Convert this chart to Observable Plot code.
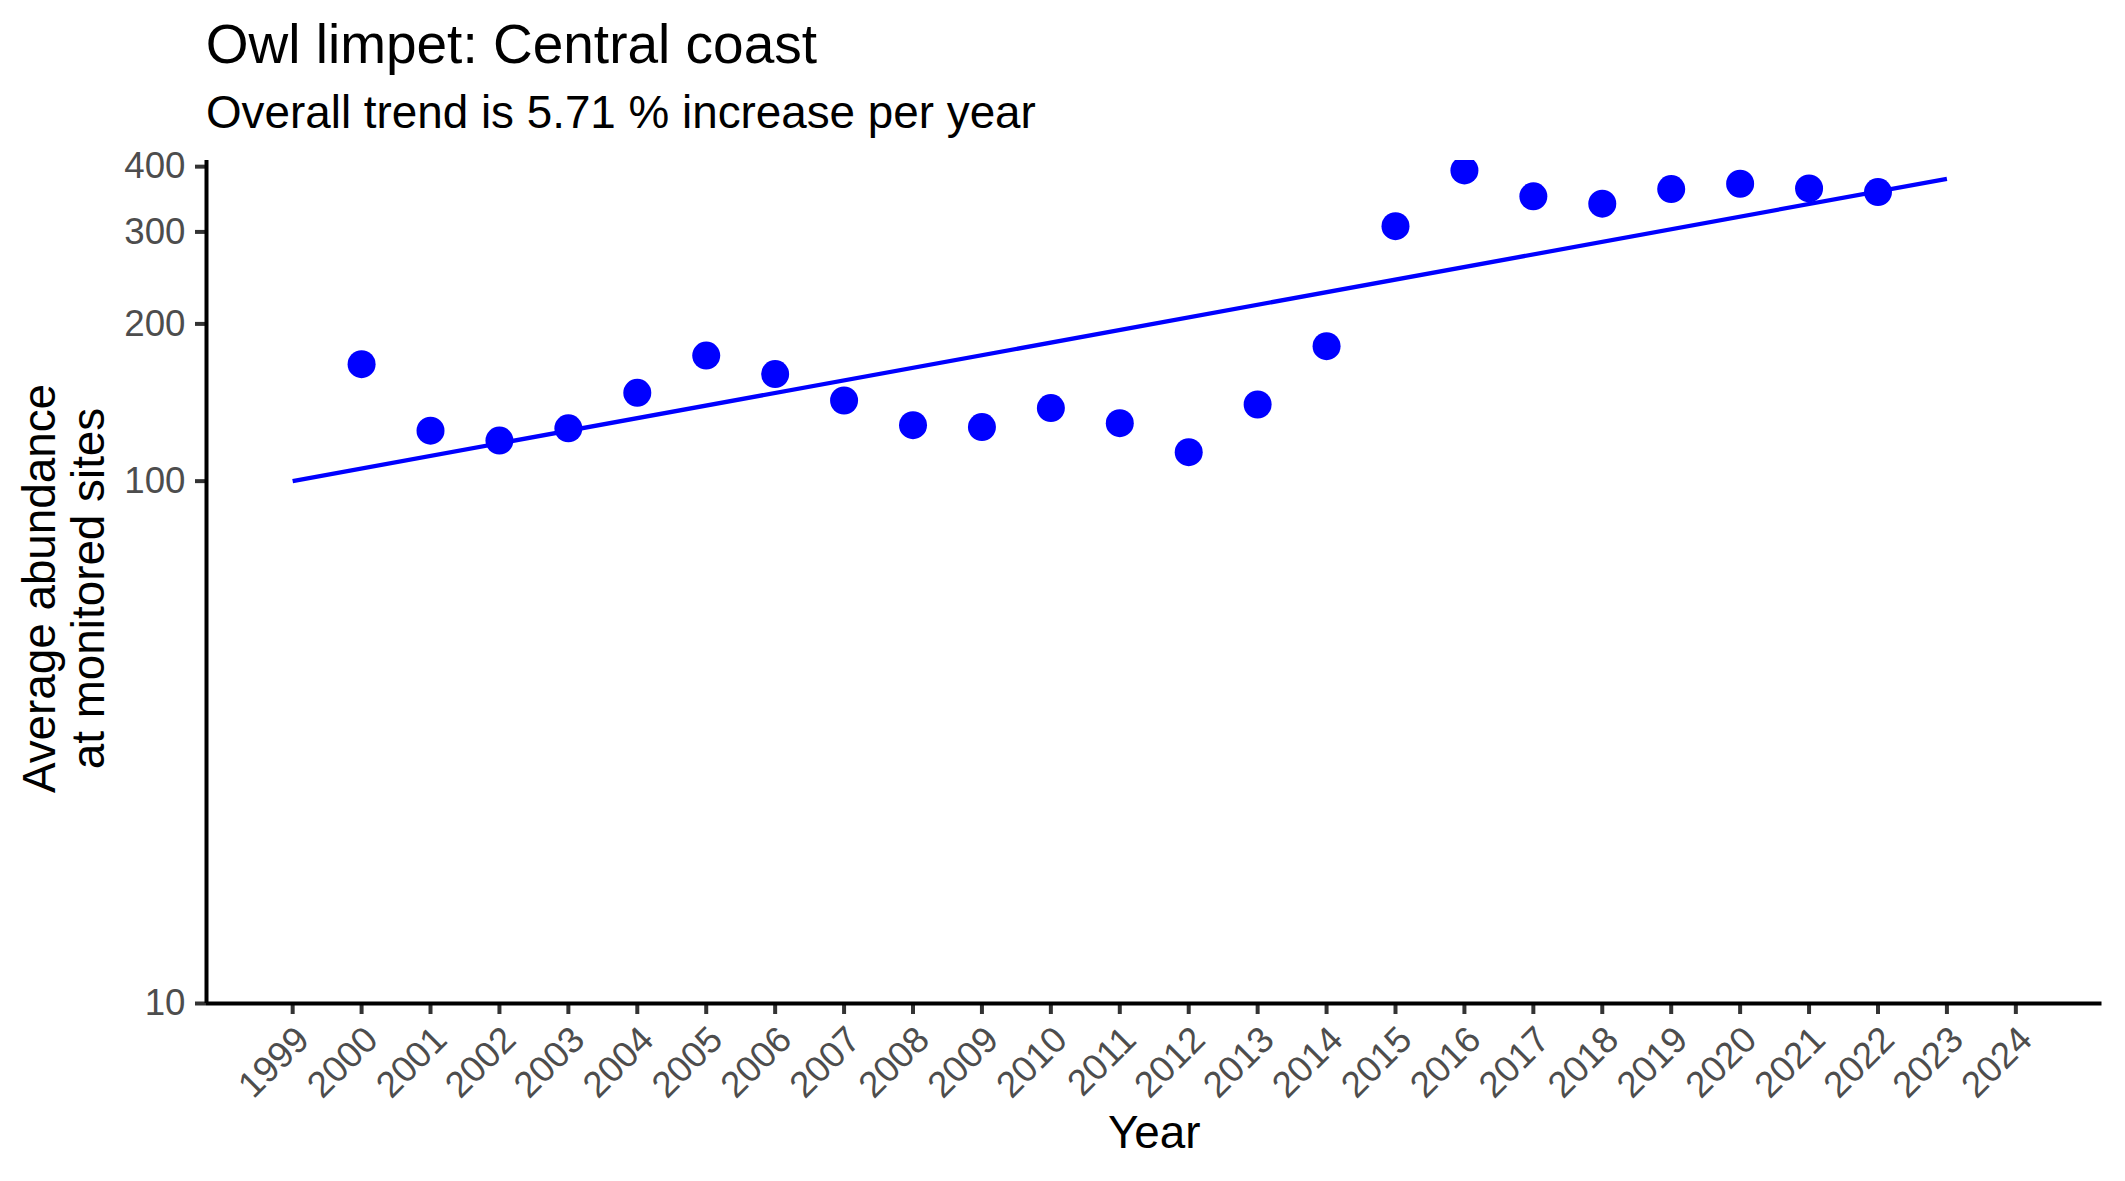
<!DOCTYPE html>
<html>
<head>
<meta charset="utf-8">
<script src="https://cdn.jsdelivr.net/npm/d3@7"></script>
<script src="https://cdn.jsdelivr.net/npm/@observablehq/plot@0.6"></script>
<style>
  html, body { margin: 0; padding: 0; background: #ffffff; }
  #page { position: relative; width: 2125px; height: 1181px; font-family: "Liberation Sans", Arial, Helvetica, sans-serif; }
  #header { position: relative; width: 2125px; height: 140px; }
  #title { position: absolute; left: 205.7px; top: 16.9px; font-size: 55px; line-height: 55px; color: #000; white-space: nowrap; }
  #subtitle { position: absolute; left: 206px; top: 89.5px; font-size: 45.8px; line-height: 45.8px; color: #000; white-space: nowrap; }
  #chart svg { display: block; }
</style>
</head>
<body>
<div id="page">
  <div id="header">
    <div id="title"></div>
    <div id="subtitle"></div>
  </div>
  <div id="chart"></div>
</div>
<script>
// Owl limpet survey, Central coast: yearly average abundance at monitored sites
const years = [2000, 2001, 2002, 2003, 2004, 2005, 2006, 2007, 2008, 2009, 2010, 2011,
               2012, 2013, 2014, 2015, 2016, 2017, 2018, 2019, 2020, 2021, 2022];
const abundance = [167.5, 124.9, 119.6, 126.2, 147.6, 173.9, 160.3, 142.7, 128.0, 126.9, 138.0, 129.1,
                   113.6, 140.2, 181.3, 307.7, 393.4, 350.9, 339.8, 362.3, 371.0, 363.4, 357.6];

// Fitted trend: value at the first year and the annual percentage change
const trendYears = [1999, 2023];
const trendStart = 100;
const trendRatePct = 5.71;
const trendValues = trendYears.map(y => trendStart * Math.pow(1 + trendRatePct / 100, y - trendYears[0]));

// Axis ticks
const xTicks = [1999, 2000, 2001, 2002, 2003, 2004, 2005, 2006, 2007, 2008, 2009, 2010, 2011,
                2012, 2013, 2014, 2015, 2016, 2017, 2018, 2019, 2020, 2021, 2022, 2023, 2024];
const yTicks = [10, 100, 200, 300, 400];
const xDomain = [1997.75, 2025.25];
const yDomain = [10, 411];

const titleText = "Owl limpet: Central coast";
const subtitleText = `Overall trend is ${trendRatePct} % increase per year`;
const xTitle = "Year";
const yTitle = "Average abundance\nat monitored sites";

document.getElementById("title").textContent = titleText;
document.getElementById("subtitle").textContent = subtitleText;

const tickColor = "#333333";
const labelColor = "#4d4d4d";
const pointColor = "#0000ff";

const chart = Plot.plot({
  width: 2125,
  height: 1041,
  marginTop: 20,
  marginBottom: 178,
  marginLeft: 206,
  marginRight: 23.5,
  style: {
    fontFamily: '"Liberation Sans", Arial, Helvetica, sans-serif',
    fontSize: "36.7px",
    background: "#ffffff",
    color: "#000000",
    overflow: "visible"
  },
  x: { type: "linear", domain: xDomain },
  y: { type: "log", domain: yDomain },
  marks: [
    Plot.axisX({
      ticks: xTicks,
      tickFormat: d => String(d),
      tickSize: 11,
      tickPadding: 9,
      tickRotate: -45,
      textAnchor: "end",
      lineAnchor: "top",
      stroke: tickColor,
      strokeWidth: 4,
      fill: labelColor,
      fontSize: 36.7,
      label: null
    }),
    Plot.axisY({
      ticks: yTicks,
      tickFormat: d => String(d),
      tickSize: 11,
      tickPadding: 10,
      stroke: tickColor,
      strokeWidth: 4,
      fill: labelColor,
      fontSize: 36.7,
      label: null
    }),
    // axis lines
    Plot.ruleY([yDomain[0]], { stroke: "#000000", strokeWidth: 4 }),
    Plot.ruleX([xDomain[0]], { stroke: "#000000", strokeWidth: 4 }),
    // trend line
    Plot.line(trendYears, {
      x: trendYears,
      y: trendValues,
      stroke: pointColor,
      strokeWidth: 4.3,
      strokeLinecap: "butt"
    }),
    // yearly averages
    Plot.dot(years, {
      x: years,
      y: abundance,
      r: 14,
      fill: pointColor,
      stroke: null,
      clip: true
    }),
    // axis titles
    Plot.text([xTitle], {
      text: d => d,
      frameAnchor: "bottom",
      lineAnchor: "bottom",
      dy: 144,
      fontSize: 45.8,
      fill: "#000000"
    }),
    Plot.text([yTitle], {
      text: d => d,
      frameAnchor: "left",
      rotate: -90,
      textAnchor: "middle",
      lineAnchor: "bottom",
      lineHeight: 1.05,
      dx: -103,
      dy: 6.5,
      fontSize: 45.8,
      fill: "#000000"
    })
  ]
});

document.getElementById("chart").append(chart);
</script>
</body>
</html>
